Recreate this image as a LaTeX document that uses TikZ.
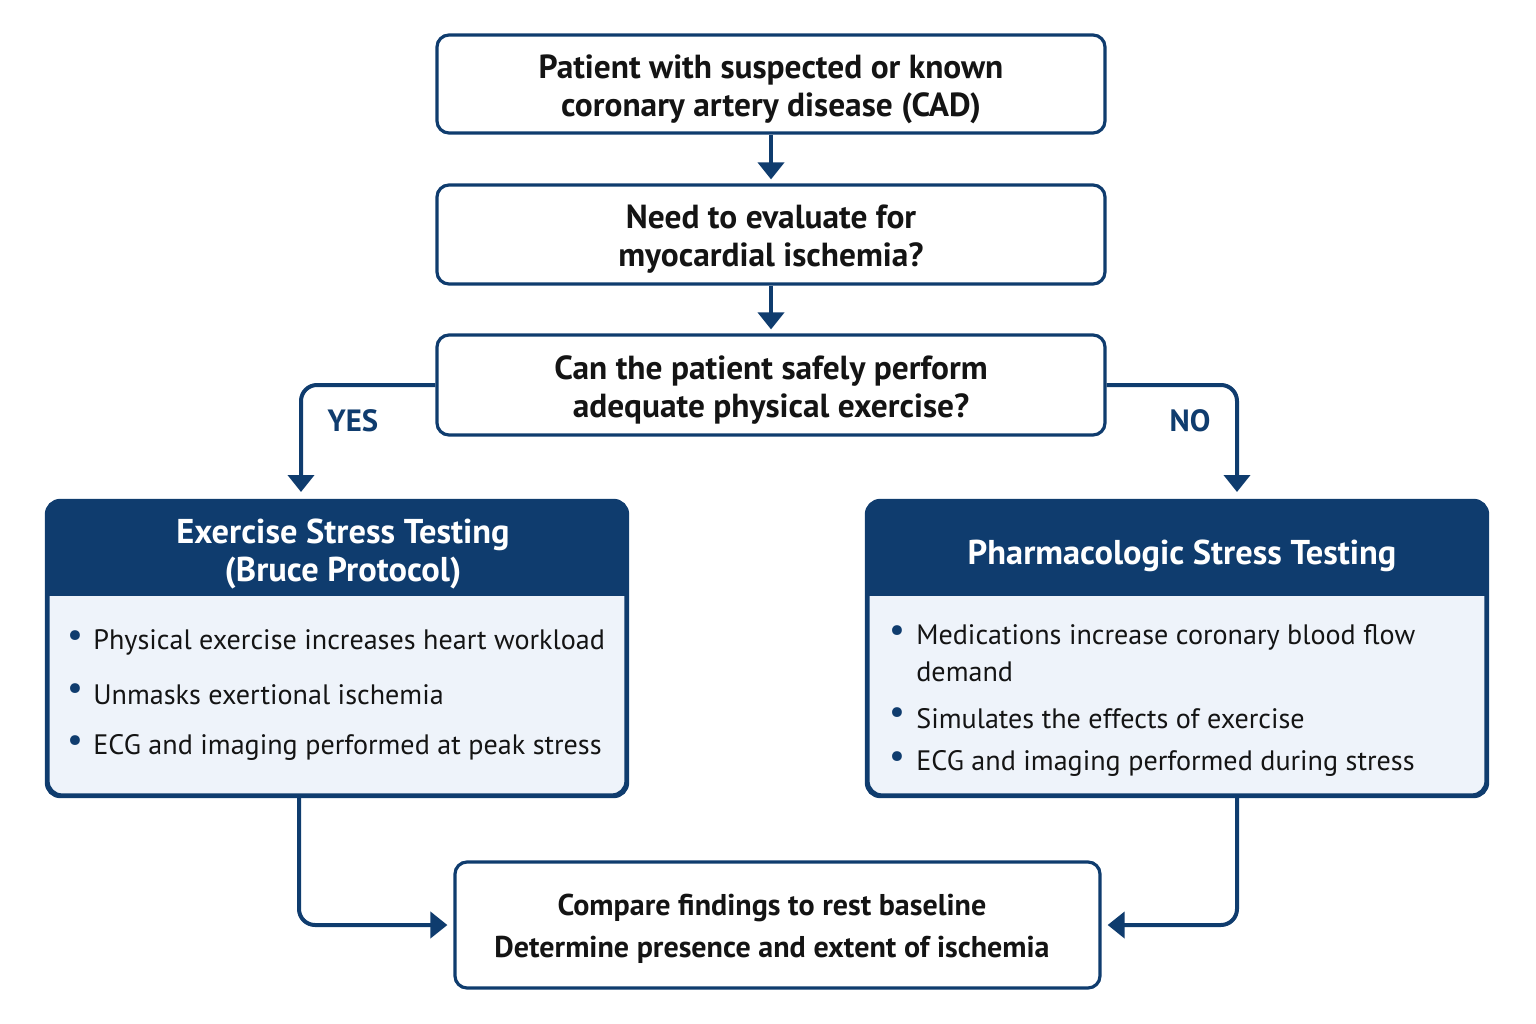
\documentclass[tikz,border=0pt]{standalone}
\usepackage{fontspec}
\setmainfont{PT Sans}
\usetikzlibrary{arrows.meta,calc}
\definecolor{navy}{HTML}{0F3C6E}
\definecolor{panelfill}{HTML}{EEF3FA}
\definecolor{ink}{HTML}{141414}
\newcommand\pxu{0.02cm}
\tikzset{
  flowbox/.style={draw=navy, line width=3.2*\pxu, rounded corners=12*\pxu, fill=white, inner sep=0pt},
  panel/.style={draw=navy, line width=3.2*\pxu, rounded corners=14*\pxu, fill=panelfill, inner sep=0pt},
  boxtxt/.style={align=center, text=ink, font=\fontsize{19}{21.5}\selectfont\bfseries},
  headtxt/.style={align=center, text=white, font=\fontsize{19.6}{22}\selectfont\bfseries},
  bultxt/.style={anchor=west, text=ink, inner sep=0pt, font=\fontsize{16}{20.5}\selectfont},
  buldot/.style={text=navy, inner sep=0pt, font=\fontsize{20}{20}\selectfont},
  conn/.style={draw=navy, line width=4*\pxu, -{Triangle[width=26*\pxu,length=17*\pxu]}},
  lbl/.style={text=navy, font=\fontsize{17.5}{20}\selectfont\bfseries}
}
\begin{document}
\begin{tikzpicture}[x=0.02cm,y=-0.02cm]
\useasboundingbox (0,0) rectangle (1536,1024);
% main boxes
\node[flowbox, minimum width=668*\pxu, minimum height=98*\pxu] (b1) at (771,84) {};
\node[boxtxt] (t1) at (771,89) {Patient with suspected or known\\coronary artery disease (CAD)};
\node[flowbox, minimum width=668*\pxu, minimum height=99*\pxu] (b2) at (771,234.5) {};
\node[boxtxt] (t2) at (771,239) {Need to evaluate for\\myocardial ischemia?};
\node[flowbox, minimum width=668*\pxu, minimum height=100*\pxu] (b3) at (771,385) {};
\node[boxtxt] (t3) at (771,390) {Can the patient safely perform\\adequate physical exercise?};
\node[flowbox, minimum width=645*\pxu, minimum height=126*\pxu] (b6) at (777.5,925) {};
\node[boxtxt, font=\fontsize{17.1}{23.8}\selectfont\bfseries] (t6) at (772,929) {Compare findings to rest baseline\\Determine presence and extent of ischemia};
% left panel
\node[panel, minimum width=578*\pxu, minimum height=293*\pxu] (ex) at (337,648.5) {};
\begin{scope}
  \clip[rounded corners=14*\pxu] (ex.north west) rectangle (ex.south east);
  \fill[navy] (ex.north west) rectangle ($(ex.north east)+(0,96)$);
\end{scope}
\draw[navy, line width=3.2*\pxu, rounded corners=14*\pxu] (ex.north west) rectangle (ex.south east);
\node[headtxt] (exh) at (343,554) {Exercise Stress Testing\\(Bruce Protocol)};
\node[buldot] (ed1) at (75,639) {•};
\node[bultxt] (e1) at (93,642) {Physical exercise increases heart workload};
\node[buldot] (ed2) at (75,692) {•};
\node[bultxt] (e2) at (93,695) {Unmasks exertional ischemia};
\node[buldot] (ed3) at (75,744) {•};
\node[bultxt] (e3) at (93,747) {ECG and imaging performed at peak stress};
% right panel
\node[panel, minimum width=618*\pxu, minimum height=293*\pxu] (ph) at (1177,648.5) {};
\begin{scope}
  \clip[rounded corners=14*\pxu] (ph.north west) rectangle (ph.south east);
  \fill[navy] (ph.north west) rectangle ($(ph.north east)+(0,96)$);
\end{scope}
\draw[navy, line width=3.2*\pxu, rounded corners=14*\pxu] (ph.north west) rectangle (ph.south east);
\node[headtxt] (phh) at (1182,556) {Pharmacologic Stress Testing};
\node[buldot] (pd1) at (897,634) {•};
\node[bultxt] (p1) at (916,637) {Medications increase coronary blood flow};
\node[bultxt] (p1b) at (916,672) {demand};
\node[buldot] (pd2) at (897,716) {•};
\node[bultxt] (p2) at (916,719) {Simulates the effects of exercise};
\node[buldot] (pd3) at (897,760) {•};
\node[bultxt] (p3) at (916,763) {ECG and imaging performed during stress};
% connectors
\draw[conn, shorten >=4*\pxu] (b1.south) -- (b2.north);
\draw[conn, shorten >=4*\pxu] (b2.south) -- (b3.north);
\coordinate (yesend) at (301,492);
\coordinate (noend) at (1237,492);
\draw[conn, rounded corners=16*\pxu] (b3.west) -| (yesend);
\draw[conn, rounded corners=16*\pxu] (b3.east) -| (noend);
\node[lbl] (yes) at (353,421) {YES};
\node[lbl] (no) at (1190,421) {NO};
\coordinate (exout) at (299,795);
\coordinate (phout) at (1237,795);
\draw[conn, rounded corners=16*\pxu, shorten >=6*\pxu] (exout) |- (b6.west);
\draw[conn, rounded corners=16*\pxu, shorten >=6*\pxu] (phout) |- (b6.east);
\end{tikzpicture}
\end{document}
